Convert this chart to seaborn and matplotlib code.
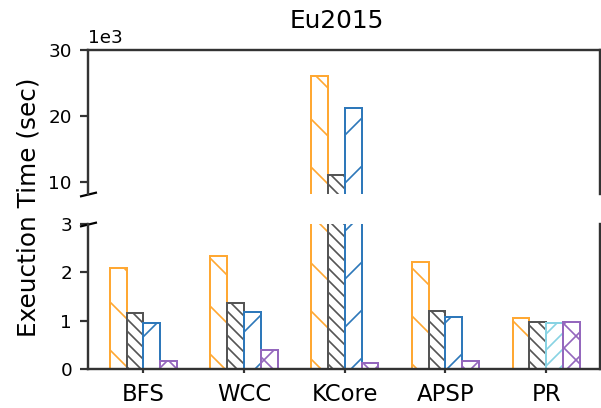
import numpy as np
import pandas as pd
import matplotlib
matplotlib.use("Agg")
import matplotlib.pyplot as plt
import seaborn as sns

# Execution time (seconds) per algorithm and system
categories = ["BFS", "WCC", "KCore", "APSP", "PR"]
orange_sys = [2080, 2340, 26000, 2210, 1060]
gray_sys = [1150, 1370, 11000, 1190, 980]
blue_sys = [960, 1180, 21200, 1080, np.nan]
cyan_sys = [np.nan, np.nan, np.nan, np.nan, 950]
purple_sys = [170, 390, 130, 165, 975]

colors = {"orange": "#FFA833", "gray": "#555555", "blue": "#2E78BA",
          "cyan": "#88D3E3", "purple": "#9467BD"}
hatches = {"orange": "\\\\", "gray": "\\" * 8, "blue": "//",
           "cyan": "//////", "purple": "xxxx"}

# Each group holds four bars; the third slot is blue or cyan depending on the algorithm
rows = []
for i, cat in enumerate(categories):
    third = "blue" if not np.isnan(blue_sys[i]) else "cyan"
    third_val = blue_sys[i] if third == "blue" else cyan_sys[i]
    for slot, (name, val) in enumerate([("orange", orange_sys[i]), ("gray", gray_sys[i]),
                                        (third, third_val), ("purple", purple_sys[i])]):
        rows.append({"category": cat, "slot": slot, "system": name, "time": val})
df = pd.DataFrame(rows)

DPI = 288
plt.rcParams["hatch.linewidth"] = 0.42
plt.rcParams["font.family"] = ["DejaVu Sans"]

fig = plt.figure(figsize=(601 / DPI, 408 / DPI), dpi=DPI)
W, H = 601, 408
ax_top = fig.add_axes([88 / W, 1 - 193.5 / H, 512 / W, 143.5 / H])
ax_bot = fig.add_axes([88 / W, 1 - 369 / H, 512 / W, 145 / H])

slot_palette = {0: colors["orange"], 1: colors["gray"], 2: colors["blue"], 3: colors["purple"]}

for ax in (ax_top, ax_bot):
    sns.barplot(data=df, x="category", y="time", hue="slot", palette=slot_palette,
                order=categories, hue_order=[0, 1, 2, 3], fill=False, width=0.667,
                gap=0, errorbar=None, legend=False, ax=ax, linewidth=0.5)
    for slot, container in enumerate(ax.containers):
        for j, bar in enumerate(container):
            name = df[(df.category == categories[j]) & (df.slot == slot)].system.iloc[0]
            bar.set_facecolor("none")
            bar.set_edgecolor(colors[name])
            bar.set_hatch(hatches[name])
            bar.set_linewidth(0.5)
    ax.set_xlim(-0.55, 4.535)
    ax.set_xlabel("")
    ax.set_ylabel("")
    for s in ax.spines.values():
        s.set_linewidth(0.6)
        s.set_color("#333333")
    ax.ticklabel_format(axis="y", style="sci", scilimits=(3, 3))
    ax.tick_params(axis="y", length=2.0, width=0.55, pad=2.0, labelsize=4.6, color="#333333")
    ax.tick_params(axis="x", length=1.1, width=0.55, pad=2.4, labelsize=5.7, color="#333333")
    ax.yaxis.get_offset_text().set_visible(False)

ax_top.set_ylim(8250, 30000)
ax_top.set_yticks([10000, 20000, 30000])
ax_top.spines["bottom"].set_visible(False)
ax_top.tick_params(axis="x", bottom=False, labelbottom=False)

ax_bot.set_ylim(0, 3000)
ax_bot.set_yticks([0, 1000, 2000, 3000])
ax_bot.spines["top"].set_visible(False)

# Scale factor shown above the upper panel
fig.text(88 / W, 1 - 43 / H, "1e3", ha="left", va="baseline", fontsize=4.6)

# Diagonal break marks on the left spine
mk = dict(marker=[(-1, -0.24), (1, 0.24)], markersize=4.25, linestyle="none",
          color="k", mec="k", mew=0.55, clip_on=False)
ax_top.plot([0], [0], transform=ax_top.transAxes, **mk)
ax_bot.plot([0], [1], transform=ax_bot.transAxes, **mk)

fig.text(29 / W, 1 - 207 / H, "Exeuction Time (sec)", rotation=90,
         ha="center", va="center", fontsize=6.2)
fig.text(336.5 / W, 1 - 28 / H, "Eu2015", ha="center", va="baseline", fontsize=6.2)

fig.savefig("out.png", dpi=DPI)
